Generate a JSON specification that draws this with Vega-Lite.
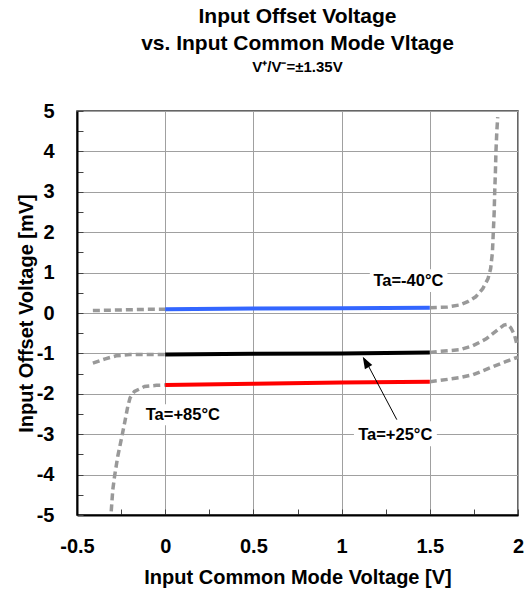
{
  "$schema": "https://vega.github.io/schema/vega-lite/v6.json",
  "width": 441,
  "height": 404,
  "autosize": {"type": "none"},
  "padding": {"left": 77, "top": 111, "right": 8, "bottom": 78},
  "background": "white",
  "config": {
    "font": "Liberation Sans",
    "view": {"stroke": "#333333", "strokeWidth": 1.5},
    "axis": {
      "labelFont": "Liberation Sans",
      "labelFontSize": 20,
      "labelFontWeight": "bold",
      "labelColor": "black",
      "titleFont": "Liberation Sans",
      "titleFontSize": 20,
      "titleFontWeight": "bold",
      "titleColor": "black",
      "domainColor": "black",
      "domainWidth": 2,
      "tickColor": "#444444",
      "tickWidth": 1,
      "tickSize": -6,
      "gridWidth": 1,
      "labelOverlap": false,
      "labelFlush": false
    }
  },
  "title": {
    "text": ["Input Offset Voltage", "vs. Input Common Mode Vltage"],
    "subtitle": "V⁺/V⁻=±1.35V",
    "font": "Liberation Sans",
    "fontSize": 21,
    "fontWeight": "bold",
    "lineHeight": 27,
    "color": "black",
    "subtitleFont": "Liberation Sans",
    "subtitleFontSize": 15,
    "subtitleFontWeight": "bold",
    "subtitleColor": "black",
    "subtitlePadding": 6,
    "anchor": "middle",
    "offset": 26
  },
  "datasets": {
    "measured": [
      {"series": "-40", "x": 0, "y": 0.09},
      {"series": "-40", "x": 0.5, "y": 0.11},
      {"series": "-40", "x": 1.0, "y": 0.12},
      {"series": "-40", "x": 1.5, "y": 0.13},
      {"series": "25", "x": 0, "y": -1.03},
      {"series": "25", "x": 0.5, "y": -1.01},
      {"series": "25", "x": 1.0, "y": -1.0},
      {"series": "25", "x": 1.5, "y": -0.98},
      {"series": "85", "x": 0, "y": -1.78},
      {"series": "85", "x": 0.5, "y": -1.75},
      {"series": "85", "x": 1.0, "y": -1.72},
      {"series": "85", "x": 1.5, "y": -1.7}
    ],
    "extrapolated": [
      {"seg": "m40L", "x": -0.41, "y": 0.06},
      {"seg": "m40L", "x": -0.3, "y": 0.07},
      {"seg": "m40L", "x": -0.2, "y": 0.08},
      {"seg": "m40L", "x": -0.1, "y": 0.09},
      {"seg": "m40L", "x": 0, "y": 0.09},
      {"seg": "m40R", "x": 1.5, "y": 0.13},
      {"seg": "m40R", "x": 1.6, "y": 0.15},
      {"seg": "m40R", "x": 1.67, "y": 0.2},
      {"seg": "m40R", "x": 1.715, "y": 0.28},
      {"seg": "m40R", "x": 1.76, "y": 0.4},
      {"seg": "m40R", "x": 1.8, "y": 0.6},
      {"seg": "m40R", "x": 1.83, "y": 0.85},
      {"seg": "m40R", "x": 1.845, "y": 1.1},
      {"seg": "m40R", "x": 1.855, "y": 1.5},
      {"seg": "m40R", "x": 1.86, "y": 2.0},
      {"seg": "m40R", "x": 1.865, "y": 2.5},
      {"seg": "m40R", "x": 1.868, "y": 3.0},
      {"seg": "m40R", "x": 1.872, "y": 3.5},
      {"seg": "m40R", "x": 1.875, "y": 4.0},
      {"seg": "m40R", "x": 1.88, "y": 4.5},
      {"seg": "m40R", "x": 1.885, "y": 4.85},
      {"seg": "p25L", "x": -0.41, "y": -1.24},
      {"seg": "p25L", "x": -0.344, "y": -1.14},
      {"seg": "p25L", "x": -0.278, "y": -1.06},
      {"seg": "p25L", "x": -0.2, "y": -1.03},
      {"seg": "p25L", "x": -0.1, "y": -1.03},
      {"seg": "p25L", "x": 0, "y": -1.03},
      {"seg": "p25R", "x": 1.5, "y": -0.98},
      {"seg": "p25R", "x": 1.557, "y": -0.95},
      {"seg": "p25R", "x": 1.67, "y": -0.91},
      {"seg": "p25R", "x": 1.744, "y": -0.81},
      {"seg": "p25R", "x": 1.82, "y": -0.64},
      {"seg": "p25R", "x": 1.886, "y": -0.41},
      {"seg": "p25R", "x": 1.92, "y": -0.3},
      {"seg": "p25R", "x": 1.94, "y": -0.28},
      {"seg": "p25R", "x": 1.96, "y": -0.37},
      {"seg": "p25R", "x": 1.98, "y": -0.54},
      {"seg": "p25R", "x": 1.995, "y": -0.8},
      {"seg": "p85L", "x": -0.306, "y": -4.91},
      {"seg": "p85L", "x": -0.297, "y": -4.37},
      {"seg": "p85L", "x": -0.287, "y": -4.04},
      {"seg": "p85L", "x": -0.269, "y": -3.55},
      {"seg": "p85L", "x": -0.249, "y": -3.13},
      {"seg": "p85L", "x": -0.23, "y": -2.72},
      {"seg": "p85L", "x": -0.212, "y": -2.31},
      {"seg": "p85L", "x": -0.199, "y": -2.1},
      {"seg": "p85L", "x": -0.174, "y": -1.94},
      {"seg": "p85L", "x": -0.117, "y": -1.82},
      {"seg": "p85L", "x": -0.05, "y": -1.79},
      {"seg": "p85L", "x": 0, "y": -1.78},
      {"seg": "p85R", "x": 1.5, "y": -1.7},
      {"seg": "p85R", "x": 1.557, "y": -1.67},
      {"seg": "p85R", "x": 1.67, "y": -1.6},
      {"seg": "p85R", "x": 1.744, "y": -1.53},
      {"seg": "p85R", "x": 1.84, "y": -1.36},
      {"seg": "p85R", "x": 1.933, "y": -1.2},
      {"seg": "p85R", "x": 2.0, "y": -1.09}
    ],
    "labels": [
      {"x": 1.379, "y": 0.78, "label": "Ta=-40°C"},
      {"x": 1.304, "y": -3.01, "label": "Ta=+25°C"},
      {"x": 0.1, "y": -2.52, "label": "Ta=+85°C"}
    ],
    "boxes": [
      {"x": 1.16, "x2": 1.6, "y": 0.52, "y2": 1.08},
      {"x": 1.07, "x2": 1.54, "y": -2.68, "y2": -3.3},
      {"x": -0.13, "x2": 0.33, "y": -2.26, "y2": -2.78}
    ],
    "arrow": [
      {"x": 1.313, "y": -2.64, "x2": 1.13, "y2": -1.13}
    ],
    "arrowhead": [
      {"x": 1.12, "y": -1.08}
    ]
  },
  "encoding": {
    "x": {
      "field": "x",
      "type": "quantitative",
      "scale": {"domain": [-0.5, 2], "nice": false, "zero": false},
      "axis": {
        "title": "Input Common Mode Voltage [V]",
        "values": [-0.5, -0.25, 0, 0.25, 0.5, 0.75, 1, 1.25, 1.5, 1.75, 2],
        "labelExpr": "datum.value % 0.5 === 0 ? '' + datum.value : ''",
        "labelPadding": 27,
        "titlePadding": 11,
        "grid": true,
        "gridColor": {"condition": {"test": "datum.value % 0.5 !== 0", "value": "transparent"}, "value": "#a0a0a0"}
      }
    },
    "y": {
      "field": "y",
      "type": "quantitative",
      "scale": {"domain": [-5, 5], "nice": false, "zero": false},
      "axis": {
        "title": "Input Offset Voltage [mV]",
        "values": [-5, -4.5, -4, -3.5, -3, -2.5, -2, -1.5, -1, -0.5, 0, 0.5, 1, 1.5, 2, 2.5, 3, 3.5, 4, 4.5, 5],
        "labelExpr": "datum.value % 1 === 0 ? '' + datum.value : ''",
        "labelPadding": 29,
        "titlePadding": 0,
        "grid": true,
        "gridColor": {"condition": {"test": "datum.value % 1 !== 0", "value": "transparent"}, "value": "#a0a0a0"}
      }
    }
  },
  "layer": [
    {
      "data": {"name": "boxes"},
      "mark": {"type": "rect", "fill": "white", "stroke": null},
      "encoding": {
        "x2": {"field": "x2"},
        "y2": {"field": "y2"}
      }
    },
    {
      "data": {"name": "extrapolated"},
      "mark": {"type": "line", "color": "#999999", "strokeWidth": 3.5, "strokeDash": [7, 4], "clip": true},
      "encoding": {
        "detail": {"field": "seg", "type": "nominal"}
      }
    },
    {
      "data": {"name": "measured"},
      "mark": {"type": "line", "strokeWidth": 4},
      "encoding": {
        "color": {
          "field": "series",
          "type": "nominal",
          "scale": {"domain": ["-40", "25", "85"], "range": ["#3366ff", "#000000", "#ff0000"]},
          "legend": null
        }
      }
    },
    {
      "data": {"name": "labels"},
      "mark": {"type": "text", "font": "Liberation Sans", "fontSize": 16.5, "fontWeight": "bold", "color": "black", "align": "center", "baseline": "middle"},
      "encoding": {
        "text": {"field": "label", "type": "nominal"}
      }
    },
    {
      "data": {"name": "arrow"},
      "mark": {"type": "rule", "color": "black", "strokeWidth": 1},
      "encoding": {
        "x2": {"field": "x2"},
        "y2": {"field": "y2"}
      }
    },
    {
      "data": {"name": "arrowhead"},
      "mark": {"type": "point", "shape": "M0,0L-0.35,1L0.35,1Z", "size": 576, "filled": true, "color": "black", "opacity": 1, "angle": 331},
      "encoding": {}
    }
  ]
}
